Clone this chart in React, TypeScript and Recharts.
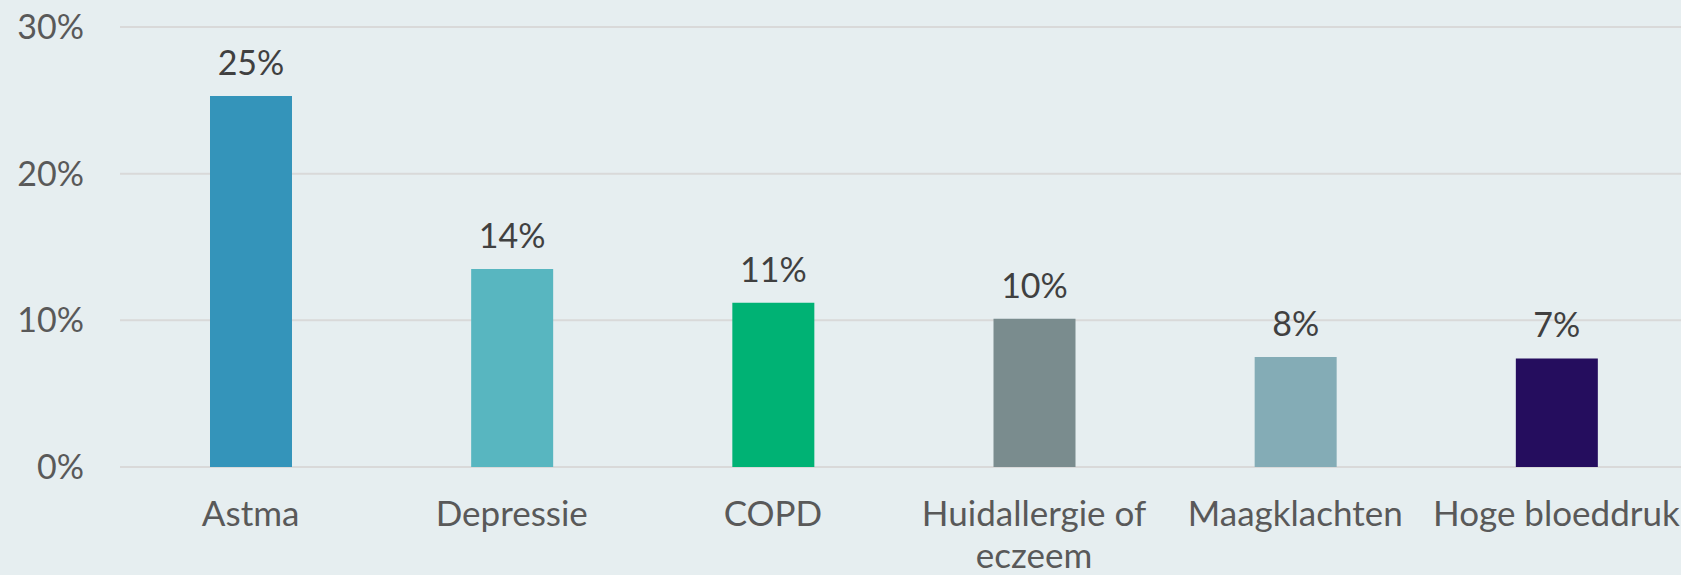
import { BarChart, Bar, XAxis, YAxis, CartesianGrid, Cell, LabelList } from "recharts";

const categories = ["Astma", "Depressie", "COPD", "Huidallergie of eczeem", "Maagklachten", "Hoge bloeddruk"];
const values = [25.3, 13.5, 11.2, 10.1, 7.5, 7.4];
const barColors = ["#3494BA", "#58B6C0", "#00B274", "#7A8C8E", "#84ACB6", "#250D5E"];
const yTicks = [0, 10, 20, 30];

const chartData = categories.map((name, i) => ({ name, value: values[i] }));

const FONT = "Lato, 'Open Sans', sans-serif";
const LABEL_SIZE = 35;

// wrap words into lines that fit inside one category band
function wrapLabel(label: string, maxWidth: number) {
  const ctx = document.createElement("canvas").getContext("2d");
  if (!ctx) return [label];
  ctx.font = `${LABEL_SIZE}px ${FONT}`;
  const lines: string[] = [];
  let cur = "";
  label.split(" ").forEach((w) => {
    const next = cur ? `${cur} ${w}` : w;
    if (cur && ctx.measureText(next).width > maxWidth) {
      lines.push(cur);
      cur = w;
    } else {
      cur = next;
    }
  });
  if (cur) lines.push(cur);
  return lines;
}

function CategoryTick(props: any) {
  const { x, y, payload } = props;
  const lines = wrapLabel(String(payload.value), 256);
  return (
    <text
      x={x}
      y={y}
      textAnchor="middle"
      fontSize={LABEL_SIZE}
      fontFamily={FONT}
      fill="#595959"
    >
      {lines.map((l, i) => (
        <tspan key={i} x={x} dy={i === 0 ? "0.71em" : 42}>
          {l}
        </tspan>
      ))}
    </text>
  );
}

export default function App() {
  return (
    <div
      style={{
        position: "absolute",
        left: 0,
        top: 0,
        width: 1681,
        height: 575,
        overflow: "hidden",
        background: "#E6EEF0",
      }}
    >
      <BarChart
        width={1690}
        height={575}
        data={chartData}
        margin={{ top: 27, right: 3, bottom: 0, left: 0 }}
      >
        <CartesianGrid vertical={false} stroke="#D9D9D9" strokeWidth={2} />
        <XAxis
          dataKey="name"
          interval={0}
          axisLine={false}
          tickLine={false}
          tickSize={0}
          tickMargin={34}
          height={108}
          tick={<CategoryTick />}
        />
        <YAxis
          domain={[0, 30]}
          ticks={yTicks}
          width={120}
          axisLine={false}
          tickLine={false}
          tickSize={0}
          tickMargin={36}
          tickFormatter={(v) => `${v}%`}
          tick={{ fontSize: 34, fill: "#595959", fontFamily: FONT }}
        />
        <Bar dataKey="value" barSize={82} isAnimationActive={false}>
          {chartData.map((d, i) => (
            <Cell key={d.name} fill={barColors[i]} />
          ))}
          <LabelList
            dataKey="value"
            position="top"
            offset={21}
            formatter={(v: any) => `${Math.round(Number(v))}%`}
            style={{ fontSize: 34, fill: "#404040", fontFamily: FONT }}
          />
        </Bar>
      </BarChart>
    </div>
  );
}
